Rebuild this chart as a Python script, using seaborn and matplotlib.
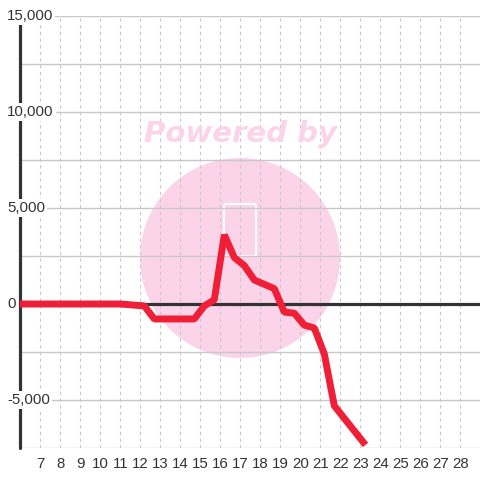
import numpy as np
import pandas as pd
import matplotlib
matplotlib.use("Agg")
import matplotlib.pyplot as plt
import matplotlib.transforms as mtransforms
from matplotlib.patches import Circle, FancyBboxPatch
import seaborn as sns

# ---- data ----
x_vals = [6, 11, 12.2, 12.7, 14.7, 15.2, 15.7, 16.2, 16.7, 17.2, 17.7, 18.7,
          19.2, 19.7, 20.2, 20.7, 21.2, 21.7, 23.15]
y_vals = [0, 0, -100, -780, -780, -100, 220, 3600, 2420, 2000, 1250, 800,
          -420, -480, -1100, -1250, -2600, -5300, -7200]
x_ticks = list(range(7, 29))
y_label_vals = [-5000, 0, 5000, 10000, 15000]
y_grid_vals = list(range(-7500, 15001, 2500))

df = pd.DataFrame({"x": x_vals, "y": y_vals})

sns.set_style("white")
plt.rcParams["font.family"] = ["Liberation Sans", "DejaVu Sans"]

fig = plt.figure(figsize=(4.8, 4.8), dpi=100)
fig.patch.set_facecolor("white")
ax = fig.add_axes([20.3 / 480, 32 / 480, 460 / 480, 432 / 480])
ax.set_facecolor("white")

ax.set_xlim(6, 29)
ax.set_ylim(-7500, 15000)

# watermark (behind grid)
pink = "#fbd4ea"
circ = Circle((240 / 480, 1 - 258 / 480), 100 / 480, transform=fig.transFigure,
              facecolor=pink, edgecolor="none", zorder=0.1, clip_on=False)
ax.add_patch(circ)
fig.text(241 / 480, 1 - 134 / 480, "Powered by", color=pink,
         fontsize=21, fontweight="heavy", style="italic",
         family="DejaVu Sans", ha="center", va="center", zorder=0.2)
phone = FancyBboxPatch((224 / 480, 1 - 256 / 480), 32 / 480, 52 / 480,
                       boxstyle="round,pad=0,rounding_size=0.004",
                       transform=fig.transFigure, facecolor="none",
                       edgecolor="white", lw=1.5, zorder=0.2)
ax.add_patch(phone)

# grid
ax.set_axisbelow(True)
ax.set_xticks(x_ticks)
ax.set_yticks(y_grid_vals)
ax.grid(axis="y", color="#c8c8c8", lw=1.0, ls="-")
ax.grid(axis="x", color="#c8c8c8", lw=0.8, ls=(0, (3, 3)))

for s in ["top", "right", "bottom", "left"]:
    ax.spines[s].set_visible(False)

# zero line and left axis line
ax.axhline(0, color="#333333", lw=2.3, zorder=1.5)
ax.axvline(6, color="#333333", lw=2.3, zorder=1.5, clip_on=False)

sns.lineplot(data=df, x="x", y="y", ax=ax, color="#ee1f36", lw=5.0,
             zorder=3, legend=False)
for ln in ax.get_lines()[-1:]:
    ln.set_solid_capstyle("projecting")
    ln.set_solid_joinstyle("bevel")
    ln.set_clip_on(True)

ax.set_xlabel("")
ax.set_ylabel("")
ax.tick_params(axis="x", length=0, pad=6.5, labelsize=10.8, labelcolor="#333333")
ax.tick_params(axis="y", length=0, labelleft=False)

trans = mtransforms.blended_transform_factory(fig.transFigure, ax.transData)
for v in y_label_vals:
    ax.text(7 / 480, v, f"{v:,}", transform=trans, ha="left", va="center",
            fontsize=10.8, color="#333333", zorder=5, clip_on=False,
            bbox=dict(facecolor="white", edgecolor="none", pad=1.5))

fig.savefig("out.png", dpi=100, facecolor="white")
